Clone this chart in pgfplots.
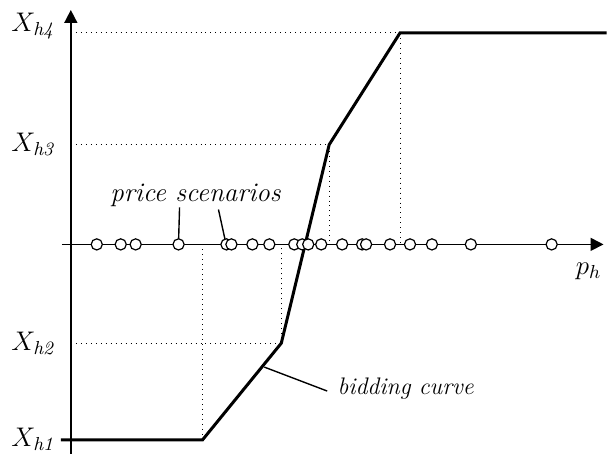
\RequirePackage{fix-cm}
\documentclass[border=0pt]{standalone}
\usepackage{pgfplots}
\pgfplotsset{compat=1.18}
\usetikzlibrary{arrows.meta}

% circles on the price axis (price scenarios)
\pgfplotstableread{
x y
26 0
50 0
65 0
108 0
156 0
161 0
182 0
199 0
224 0
232 0
238 0
251 0
272 0
292 0
296 0
320 0
340 0
362 0
401 0
482 0
}\scenarios

\newcommand{\lblfont}{\fontsize{13.5}{16}\selectfont}

\begin{document}
\begin{tikzpicture}
\begin{axis}[
    scale only axis, width=304pt, height=227.5pt,
    xmin=-71, xmax=537, ymin=-210, ymax=245,
    axis lines=none, clip=false,
]
\path (rel axis cs:0,0) rectangle (rel axis cs:1,1);
% axes
\draw[line width=0.8pt, -{Triangle[length=6.5pt,width=6.5pt]}] (axis cs:0,-210) -- (axis cs:0,235);
\draw[line width=0.8pt, -{Triangle[length=6.5pt,width=6.5pt]}] (axis cs:-9,0) -- (axis cs:534,0);
% guide lines
\addplot[dotted, line width=0.5pt] coordinates {(0,212) (330,212) (330,0)};
\addplot[dotted, line width=0.5pt] coordinates {(0,100) (259,100) (259,0)};
\addplot[dotted, line width=0.5pt] coordinates {(0,-99) (211,-99) (211,0)};
\addplot[dotted, line width=0.5pt] coordinates {(132,0) (132,-196)};
% bidding curve
\addplot[line width=1.5pt, line join=miter] coordinates {
  (-10,-196) (132,-196) (211,-99) (259,100) (330,212) (537,212)};
% scenarios
\addplot[only marks, mark=*, mark size=2.8pt,
  mark options={fill=white, draw=black, line width=0.6pt}] table {\scenarios};
% leaders
\draw[line width=0.7pt] (axis cs:109,37) -- (axis cs:108,3);
\draw[line width=0.7pt] (axis cs:148,35) -- (axis cs:155,3);
\draw[line width=0.7pt] (axis cs:194,-123) -- (axis cs:257,-147);
% labels
\node[anchor=base, font=\lblfont] at (axis cs:125,43) {\itshape price scenarios};
\node[anchor=base west, inner sep=0pt, font=\fontsize{12}{14}\selectfont] at (axis cs:267,-150) {\itshape bidding curve};
\node[anchor=base west, inner sep=0pt, font=\lblfont] at (axis cs:506,-30) {$p_h$};
\node[anchor=base west, inner sep=0pt, font=\lblfont] at (axis cs:-60,213) {$X_{\mathit{h4}}$};
\node[anchor=base west, inner sep=0pt, font=\lblfont] at (axis cs:-60,93) {$X_{\mathit{h3}}$};
\node[anchor=base west, inner sep=0pt, font=\lblfont] at (axis cs:-60,-106) {$X_{\mathit{h2}}$};
\node[anchor=base west, inner sep=0pt, font=\lblfont] at (axis cs:-60,-203) {$X_{\mathit{h1}}$};
\end{axis}
\end{tikzpicture}
\end{document}
